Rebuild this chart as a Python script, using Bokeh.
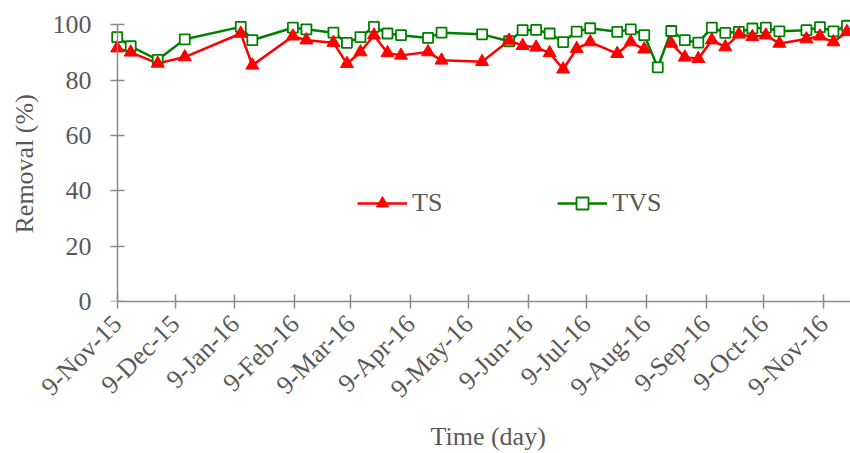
import numpy as np
import pandas as pd
from bokeh.plotting import figure
from bokeh.models import FixedTicker, Legend, LegendItem, Range1d, LinearAxis, Title
from bokeh.embed import file_html
from bokeh.resources import INLINE

# ---------------- data ----------------
dates = ["2015-11-09", "2015-11-16", "2015-11-30", "2015-12-14", "2016-01-12",
         "2016-01-18", "2016-02-08", "2016-02-15", "2016-02-29", "2016-03-07",
         "2016-03-14", "2016-03-21", "2016-03-28", "2016-04-04", "2016-04-18",
         "2016-04-25", "2016-05-16", "2016-05-30", "2016-06-06", "2016-06-13",
         "2016-06-20", "2016-06-27", "2016-07-04", "2016-07-11", "2016-07-25",
         "2016-08-01", "2016-08-08", "2016-08-15", "2016-08-22", "2016-08-29",
         "2016-09-05", "2016-09-12", "2016-09-19", "2016-09-26", "2016-10-03",
         "2016-10-10", "2016-10-17", "2016-10-31", "2016-11-07", "2016-11-14",
         "2016-11-21"]

ts = [91.5, 90.0, 86.0, 88.3, 96.8, 85.3, 95.8, 94.4, 93.5, 85.9,
      90.1, 96.2, 89.8, 88.9, 90.1, 87.1, 86.6, 94.3, 92.4, 91.8,
      89.8, 83.9, 91.3, 93.7, 89.5, 93.7, 91.1, float("nan"), 93.2, 88.2,
      87.7, 94.4, 91.9, 96.5, 95.6, 96.2, 93.2, 94.8, 95.8, 93.7,
      97.4]

tvs = [95.5, 92.2, 87.3, 94.7, 99.2, 94.4, 98.9, 98.3, 97.1, 93.4,
       95.5, 99.2, 96.8, 96.2, 95.2, 97.1, 96.5, 94.0, 98.0, 98.1,
       96.8, 93.7, 97.5, 98.7, 97.4, 98.3, 96.2, 84.6, 97.7, 94.4,
       93.5, 98.9, 97.0, 97.4, 98.6, 98.9, 97.6, 98.0, 99.1, 97.6,
       99.6]

tick_labels = ["9-Nov-15", "9-Dec-15", "9-Jan-16", "9-Feb-16", "9-Mar-16",
               "9-Apr-16", "9-May-16", "9-Jun-16", "9-Jul-16", "9-Aug-16",
               "9-Sep-16", "9-Oct-16", "9-Nov-16"]
y_ticks = [0, 20, 40, 60, 80, 100]

# ---------------- derived ----------------
start = pd.Timestamp("2015-11-09")
x = [(pd.Timestamp(d) - start).days for d in dates]
tick_days = [(pd.to_datetime(t, format="%d-%b-%y") - start).days for t in tick_labels]

FONT = "Liberation Serif"
TXT = "#595959"
AX = "#8a8a8a"
FS = "26px"

W, H = 850, 453
FRAME_LEFT = 101
FRAME_BOTTOM = 301
PX_PER_DAY = 1.9306
AXIS_X = 116.7
YMAX = 108
x0 = -(AXIS_X - FRAME_LEFT) / PX_PER_DAY
x1 = x0 + (W - FRAME_LEFT) / PX_PER_DAY

p = figure(width=W, height=H, output_backend="svg", toolbar_location=None,
           x_range=Range1d(x0, x1), y_range=Range1d(0, YMAX),
           min_border_left=FRAME_LEFT, min_border_right=0,
           min_border_top=2, min_border_bottom=H - FRAME_BOTTOM)
p.outline_line_color = None
p.grid.visible = False
p.background_fill_color = "white"
p.border_fill_color = "white"

for ax in (p.xaxis[0], p.yaxis[0]):
    ax.axis_line_color = AX
    ax.axis_line_width = 1.5
    ax.major_tick_line_color = AX
    ax.major_tick_line_width = 1.5
    ax.major_tick_in = 7
    ax.major_tick_out = 7
    ax.minor_tick_line_color = None
    ax.major_label_text_font = FONT
    ax.major_label_text_font_size = FS
    ax.major_label_text_color = TXT

p.xaxis.ticker = FixedTicker(ticks=tick_days)
p.xaxis.major_label_overrides = {d: l for d, l in zip(tick_days, tick_labels)}
p.xaxis.major_label_orientation = np.pi / 4
p.xaxis.bounds = (0, x1)
p.xaxis.major_label_standoff = 11

# y axis line + ticks at day 0 (inside frame)
p.yaxis.ticker = FixedTicker(ticks=y_ticks)
p.yaxis.bounds = (0, 100)
p.yaxis.fixed_location = 0
p.yaxis.major_label_overrides = {v: "" for v in y_ticks}

# second y axis that only carries the tick labels
ylab = LinearAxis(ticker=FixedTicker(ticks=y_ticks), axis_line_color=None,
                  major_tick_line_color=None, minor_tick_line_color=None,
                  major_tick_out=0, major_tick_in=0, major_label_standoff=10,
                  major_label_text_font=FONT, major_label_text_font_size=FS,
                  major_label_text_color=TXT)
p.add_layout(ylab, "left")

RED = "#ff0000"
GREEN = "#008000"

tvs_line = p.line(x, tvs, line_color=GREEN, line_width=2.5)
ts_line = p.line(x, ts, line_color=RED, line_width=2.5)
tvs_pts = p.scatter(x, tvs, marker="square", size=10, fill_color="white",
                    line_color=GREEN, line_width=1.8)
ts_pts = p.scatter(x, ts, marker="triangle", size=13, fill_color=RED,
                   line_color=RED, line_width=1)

legend = Legend(items=[LegendItem(label="TS", renderers=[ts_line, ts_pts]),
                       LegendItem(label="TVS", renderers=[tvs_line, tvs_pts])],
                orientation="horizontal", location=(256, 83),
                border_line_color=None, background_fill_alpha=0,
                padding=0, margin=0, spacing=115,
                glyph_width=50, glyph_height=30, label_height=30,
                label_standoff=5, label_text_font=FONT,
                label_text_font_size=FS, label_text_color=TXT)
p.add_layout(legend)

# axis titles
ytitle = Title(text="Removal (%)", align="left", offset=68, vertical_align="top",
               text_font=FONT, text_font_size=FS, text_font_style="normal",
               text_color=TXT, standoff=18)
p.add_layout(ytitle, "left")
xtitle = Title(text="Time (day)", align="left", offset=329,
               text_font=FONT, text_font_size=FS, text_font_style="normal",
               text_color=TXT, standoff=6)
p.add_layout(xtitle, "below")

open("out.html", "w").write(file_html(p, INLINE))
